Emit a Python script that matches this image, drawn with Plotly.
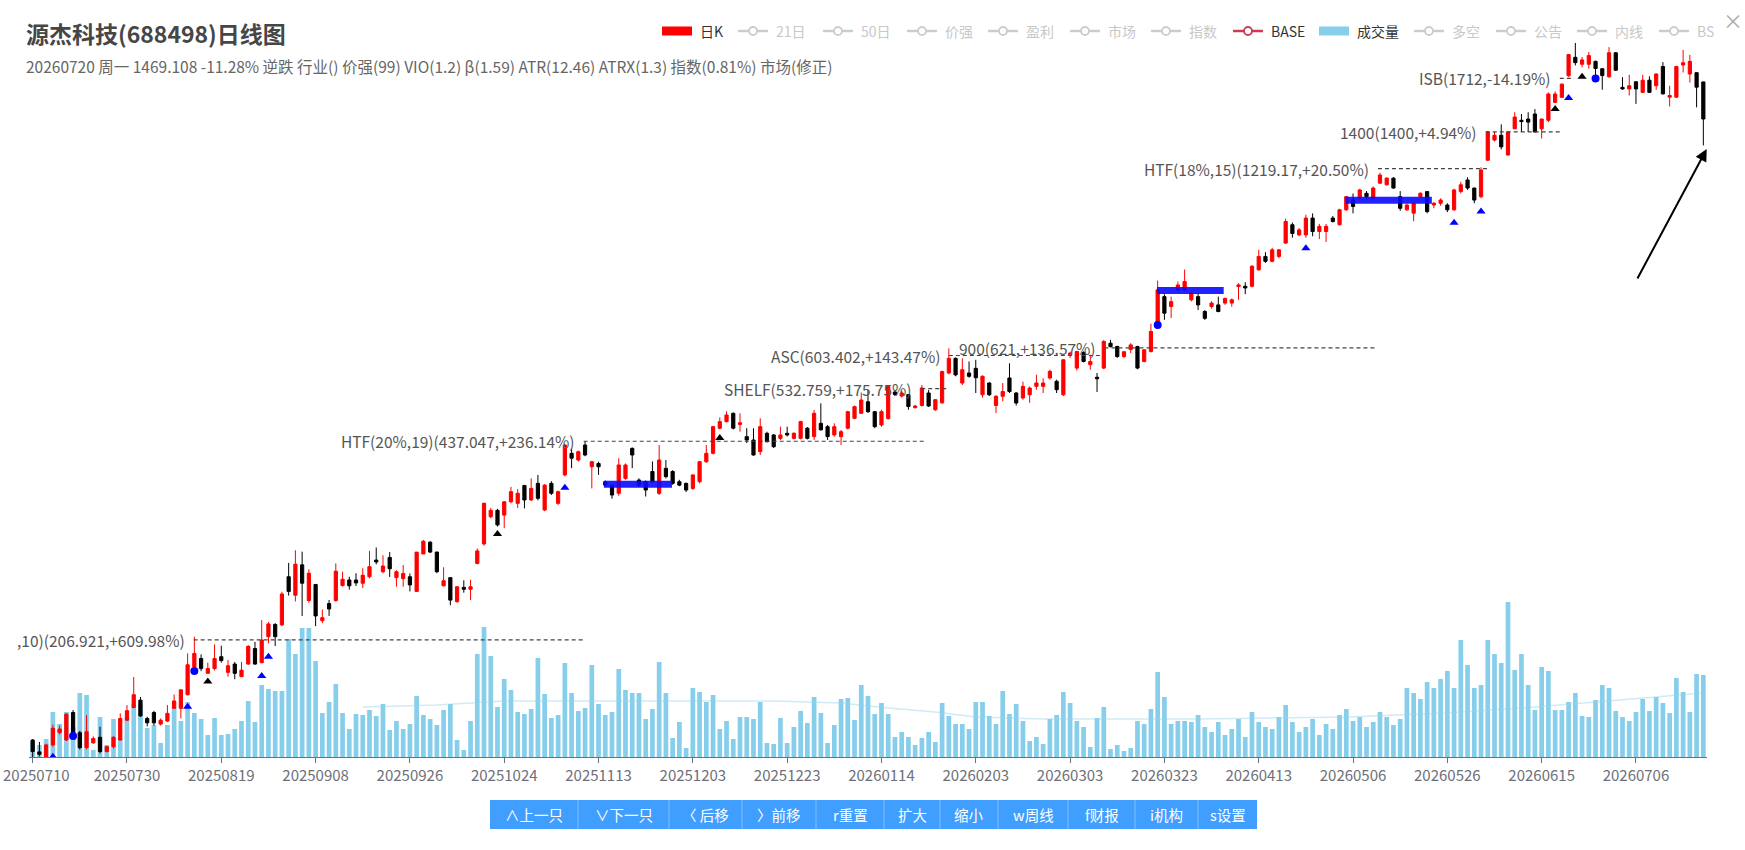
import math
import plotly.graph_objects as go

FONT = "Noto Sans CJK SC"
W, H = 1745, 850

# ---------------- data ----------------
tick_labels = ["20250710", "20250730", "20250819", "20250908", "20250926", "20251024",
               "20251113", "20251203", "20251223", "20260114", "20260203", "20260303",
               "20260323", "20260413", "20260506", "20260526", "20260615", "20260706"]
tick_step = 14  # trading days between labels

opens = [
    142, 135.8, 133, 139.4, 146, 142, 157.5, 146, 138, 140.5,
    143.5, 136, 138.5, 142, 153, 160.5, 165, 154, 157.5, 150.8,
    152.5, 160, 160, 168.4, 187, 193, 182.5, 185.8, 194.3, 183.2,
    189, 180.2, 189, 200.4, 190, 209.5, 219.3, 219, 262.5, 244.9,
    274.5, 240, 255, 222.5, 237.3, 240, 254, 259.3, 259.3, 256.2,
    262.5, 279.5, 267.5, 282.3, 261.6, 260.6, 262.5, 248.4, 286, 299,
    288, 253.7, 261.6, 239, 252.2, 250.4, 276, 297, 329, 337,
    331, 348, 346, 370, 350.4, 373, 337.5, 373, 346, 385,
    417.6, 407.2, 430.9, 397, 402, 375.3, 370.5, 359.3, 380, 425.5,
    377.7, 375.3, 390, 359.3, 394.7, 390, 375.3, 373, 366, 375.3,
    404.6, 417.6, 459, 470.5, 485.5, 465.6, 444.7, 439.1, 420.2, 450.3,
    447.5, 441.8, 450.3, 441.8, 441.8, 459, 444.7, 467.5, 461.7, 447.5,
    444.7, 459, 476.4, 485.5, 507, 488.5, 464.6, 476, 526, 518,
    521, 496, 500, 524, 492, 505, 565, 597, 544, 565,
    575, 520.6, 544, 500, 517.5, 554.5, 524, 514.3, 520.6, 537.3,
    537.3, 554.4, 547.6, 520.6, 605, 575.5, 610, 583, 556, 575.5,
    632, 624.3, 601, 617, 624, 590, 612.7, 681.5, 753, 725.5,
    772, 772, 744, 753, 712, 725.5, 730, 735, 735, 782,
    783, 783, 833, 876, 860, 876, 921, 987, 950, 950,
    1012, 962, 962, 1012, 987, 1044, 1083, 1090, 1111, 1090,
    1154, 1147, 1176, 1097, 1044, 1031, 1097, 1118, 1063, 1070,
    1063, 1044, 1118, 1168, 1133, 1097, 1258, 1357, 1382, 1283,
    1416, 1462, 1469, 1497, 1416, 1462, 1564, 1594, 1729, 1853,
    1805, 1805, 1825, 1775, 1722, 1885, 1655, 1645, 1690, 1624,
    1700, 1665, 1790, 1595, 1595, 1800, 1740, 1749, 1689]

highs = [
    142.5, 141, 140, 150.5, 150, 157, 159, 147, 156, 144,
    149.3, 139, 144, 157, 162, 180, 167, 155, 158.5, 154,
    162, 168.5, 171.5, 196.7, 209.5, 196, 190, 203.5, 202.5, 191.9,
    190.5, 190.5, 203, 205.5, 223, 221.5, 220.5, 248, 276.5, 290,
    288.5, 270, 255, 232, 240.5, 276, 267.5, 262.5, 266, 271,
    289.3, 293, 284.5, 288, 269, 274.3, 265.8, 288, 301.4, 300,
    288.5, 272, 261.6, 253, 259, 259.5, 292, 347, 340, 339,
    349, 368, 365, 371, 380, 385, 372, 376, 363, 432,
    425, 422, 437, 406, 404.6, 377, 371, 410, 402, 427,
    380, 377, 405, 430.9, 407.2, 392, 378, 374, 386, 406,
    430.9, 463, 478, 489, 487, 485.5, 459, 459, 476.4, 453,
    449, 461.7, 461.7, 452, 472, 461, 491.6, 504, 464.6, 467.5,
    456, 490, 500, 525, 530, 490, 492, 540, 530, 528,
    522, 501, 540, 530, 512, 570, 620, 599, 597, 590,
    593.8, 560, 546, 520, 544, 586, 526, 547, 537, 561.4,
    554, 572, 551, 595, 612, 614, 613, 605, 565, 640,
    640, 626, 614, 632, 626, 618, 680, 800, 760, 753,
    797, 834, 765, 763, 716, 740, 753, 750, 748, 792,
    795, 848, 898, 890, 905, 900, 1010, 995, 975, 1025,
    1030, 990, 990, 1020, 1048, 1100, 1110, 1130, 1120, 1140,
    1200, 1180, 1180, 1120, 1068, 1073, 1115, 1120, 1075, 1090,
    1070, 1130, 1160, 1180, 1135, 1225, 1405, 1399, 1440, 1403,
    1507, 1497, 1507, 1525, 1470, 1624, 1630, 1680, 1875, 1956,
    1855, 1890, 1830, 1780, 1925, 1890, 1720, 1735, 1692, 1735,
    1725, 1745, 1820, 1665, 1795, 1905, 1870, 1750, 1690]

lows = [
    133, 133.5, 132.5, 138.5, 145, 141.5, 143, 137, 137, 140,
    135, 135.5, 137.5, 142, 152.5, 160, 155, 149.5, 150, 150,
    152, 160, 154, 168, 186, 184, 182.5, 184.5, 190, 180.2,
    178.5, 180.2, 188.5, 188.5, 189.5, 204.3, 202.3, 218, 244.5, 239.2,
    226.5, 238, 218, 220.5, 226.5, 239, 253, 250, 253.5, 251.5,
    261, 275, 265.8, 262.3, 252.8, 252.8, 248.4, 248, 286, 287,
    266, 253, 235.8, 238, 247.2, 240.4, 275, 295, 327, 317,
    315, 346, 340, 339.5, 349, 350, 336, 357, 344, 383,
    395, 405, 413, 366, 385, 368, 352, 356, 378, 395,
    368, 355, 373, 357, 380, 371, 369, 361, 364, 373,
    403, 416, 457, 469, 457, 453, 434, 414, 415, 435,
    426, 439, 445, 440, 440, 440, 439.1, 455, 439.1, 444.7,
    431, 457, 475, 484, 486, 459, 461.7, 474, 518, 515,
    492, 494, 498, 497, 490, 503, 562, 558, 540, 555,
    524, 515, 518, 486, 508, 524, 500, 511, 505, 530.6,
    524, 551, 524, 518, 598, 570, 588, 572, 526, 573,
    622, 598, 598, 609, 573, 588, 610, 679, 690, 695,
    768, 770, 740, 716, 690, 720, 710, 730, 725, 744,
    760, 780, 830, 855, 857, 870, 918, 940, 945, 940,
    945, 935, 925, 995, 984, 1040, 1030, 1085, 1085, 1085,
    1150, 1144, 1130, 1040, 1040, 1000, 1090, 1030, 1050, 1060,
    1035, 1040, 1110, 1125, 1070, 1090, 1255, 1350, 1310, 1280,
    1414, 1399, 1399, 1399, 1365, 1452, 1560, 1590, 1720, 1797,
    1785, 1775, 1725, 1640, 1715, 1760, 1640, 1605, 1555, 1620,
    1620, 1640, 1610, 1540, 1590, 1750, 1685, 1535, 1330]

closes = [
    136, 134.6, 139.4, 148.5, 148, 156.5, 144.5, 138, 146.5, 142.8,
    136, 138.5, 143.5, 154, 158.6, 168.4, 155.5, 151.5, 151.5, 153,
    157, 164.5, 171.5, 188.5, 196.7, 185.8, 185.8, 193, 191.5, 187.8,
    182.5, 184.7, 202, 189, 206.9, 219.8, 209.5, 246, 248.4, 275.2,
    256.2, 266, 226.5, 225, 232.5, 268, 260, 253.7, 256.5, 264,
    272.6, 277.5, 273.3, 270.5, 267.5, 265.8, 254.5, 288, 300, 288,
    267.5, 258.6, 240.4, 252.8, 250.4, 252.8, 289.3, 346, 337, 319,
    348, 361.5, 359.3, 350.4, 366, 352.6, 370.5, 359.3, 361.5, 430.9,
    410, 420.2, 415, 404.6, 397, 370.5, 357, 399.7, 399.7, 415,
    370.5, 363.8, 375.3, 407.2, 382.5, 373, 370.5, 363.8, 385, 404.6,
    417.6, 461.7, 470.5, 482.5, 459, 468.5, 439.1, 415, 461.7, 436.3,
    428.2, 447.5, 447.5, 450.3, 470.5, 441.8, 485.5, 456.2, 444.7, 461.7,
    453, 488.5, 497.8, 510.4, 488.5, 461.7, 488.5, 537, 521, 524,
    498, 499, 534, 499, 511, 568, 597, 561, 572, 558,
    555, 558, 520.6, 517.5, 527, 527, 504.7, 537.3, 533.9, 544.1,
    544.1, 568.5, 530.6, 593.8, 609, 612.7, 590, 590, 553, 636,
    624, 601, 612, 628, 575.5, 616.5, 660.5, 772.5, 707.6, 739,
    787, 797, 763, 730, 694, 735, 712, 748, 744, 787,
    778, 844, 876, 860, 898, 898, 999, 955, 968, 1012,
    962, 981, 981, 999, 1044, 1097, 1057, 1125, 1097, 1133,
    1190, 1176, 1133, 1050, 1063, 1070, 1111, 1037, 1070, 1083,
    1044, 1125, 1147, 1133, 1083, 1213, 1399, 1382, 1323, 1399,
    1480, 1455, 1452, 1399, 1469, 1614, 1614, 1675, 1872, 1816,
    1835, 1865, 1777, 1730, 1885, 1765, 1645, 1665, 1645, 1700,
    1624, 1740, 1615, 1605, 1790, 1816, 1825, 1656, 1469.108]

# volume (arbitrary units)
volumes = [
    15, 12, 18, 45, 33, 45, 30, 64, 62, 7,
    40, 12, 38, 18, 40, 53, 52, 29, 32, 14,
    32, 50, 36, 55, 44, 38, 22, 39, 22, 23,
    28, 36, 56, 35, 72, 68, 66, 66, 118, 103,
    129, 129, 96, 44, 55, 73, 44, 28, 43, 42,
    47, 41, 53, 27, 36, 28, 33, 61, 42, 38,
    32, 47, 53, 17, 7, 36, 103, 130, 101, 50,
    78, 67, 45, 43, 48, 99, 63, 39, 42, 94,
    64, 46, 49, 92, 53, 42, 45, 88, 67, 64,
    64, 38, 48, 95, 64, 19, 35, 9, 69, 65,
    55, 62, 28, 36, 18, 40, 40, 38, 55, 14,
    13, 39, 14, 30, 46, 34, 60, 44, 14, 32,
    58, 59, 37, 72, 61, 43, 54, 43, 20, 25,
    20, 12, 19, 25, 15, 54, 41, 33, 33, 28,
    55, 55, 41, 33, 66, 43, 53, 36, 16, 20,
    13, 38, 42, 65, 54, 36, 30, 10, 39, 50,
    8, 12, 6, 9, 36, 33, 48, 85, 60, 33,
    36, 36, 35, 42, 30, 25, 35, 22, 28, 38,
    20, 45, 35, 30, 28, 40, 52, 35, 25, 30,
    38, 22, 33, 28, 42, 48, 36, 40, 30, 35,
    45, 40, 32, 38, 69, 64, 58, 75, 69, 78,
    86, 69, 117, 92, 69, 72, 117, 103, 94, 155,
    87, 103, 72, 47, 90, 86, 47, 47, 55, 64,
    41, 40, 57, 72, 69, 46, 40, 36, 45, 58,
    46, 60, 54, 44, 79, 65, 45, 83, 82]

# volume moving-average line (read at a few points)
ma_idx = [49, 60, 70, 90, 110, 120, 127, 134, 140, 150, 173, 195, 210, 223, 235, 248]
ma_vals = [50, 52, 56, 56, 56, 54, 49, 45, 40, 38, 38, 40, 44, 50, 57, 64]

# horizontal reference levels
level_texts = [",10)(206.921,+609.98%)", "HTF(20%,19)(437.047,+236.14%)",
               "SHELF(532.759,+175.75%)", "ASC(603.402,+143.47%)",
               "900(621,+136.57%)", "HTF(18%,15)(1219.17,+20.50%)",
               "1400(1400,+4.94%)", "ISB(1712,-14.19%)"]
level_prices = [206.921, 437.047, 532.759, 603.402, 621, 1219.17, 1400, 1712]
level_start = [23.9, 81.8, 131.9, 136.0, 159.1, 199.7, 215.7, 226.7]
level_end = [81.8, 132.4, 136.0, 158.6, 199.6, 216.0, 226.7, 228.8]

# blue base platforms
base_start = [84.8, 166.9, 194.9]
base_end = [94.9, 176.8, 207.7]
base_price = [371.6, 770.5, 1082]

# signal markers
blue_tri_idx = [3, 23, 34, 35, 79, 189, 211, 215, 228]
blue_tri_price = [133.3, 161, 180.7, 194.3, 367, 903, 994.6, 1037, 1590]
black_tri_idx = [26, 69, 102, 226, 230]
black_tri_price = [177, 308.3, 442.4, 1525, 1723]
blue_dot_idx = [6, 24, 167, 232]
blue_dot_price = [144.2, 184.1, 676.8, 1711]

# arrow (tail -> head)
arrow_tail = (238.1, 801.7)
arrow_head = (248.5, 1312)

title_text = "源杰科技(688498)日线图"
subtitle_text = ("20260720 周一 1469.108 -11.28% 逆跌 行业() 价强(99) VIO(1.2) β(1.59) "
                 "ATR(12.46) ATRX(1.3) 指数(0.81%) 市场(修正)")

legend_names = ["日K", "21日", "50日", "价强", "盈利", "市场", "指数", "BASE",
                "成交量", "多空", "公告", "内线", "BS"]
legend_active = [True, False, False, False, False, False, False, True,
                 True, False, False, False, False]
buttons = ["∧上一只", "∨下一只", "〈 后移", "〉前移", "r重置", "扩大", "缩小",
           "w周线", "f财报", "i机构", "s设置"]

n = len(closes)
assert len(opens) == n and len(highs) == n and len(lows) == n and len(volumes) == n, \
    (len(opens), len(highs), len(lows), len(closes), len(volumes))

# ---------------- helpers (layout only) ----------------
def fx(p):
    return p / W

def fy(p):
    return 1 - p / H

idx = list(range(n))
fig = go.Figure()

fig.add_trace(go.Bar(x=idx, y=volumes, width=0.7, yaxis="y",
                     marker=dict(color="#87CEEB", line=dict(width=0)),
                     hoverinfo="skip"))
fig.add_trace(go.Scatter(x=ma_idx, y=ma_vals, yaxis="y", mode="lines",
                         line=dict(color="rgba(150,210,235,0.45)", width=1.5),
                         hoverinfo="skip"))

for t, p, s, e in zip(level_texts, level_prices, level_start, level_end):
    fig.add_trace(go.Scatter(x=[s, e], y=[p, p], yaxis="y2", mode="lines",
                             line=dict(color="#444", width=1.2, dash="4px,3px"),
                             hoverinfo="skip"))

fig.add_trace(go.Candlestick(
    x=idx, open=opens, high=highs, low=lows, close=closes, yaxis="y2",
    increasing=dict(line=dict(color="#ff0000", width=1), fillcolor="#ff0000"),
    decreasing=dict(line=dict(color="#000000", width=1), fillcolor="#000000"),
    whiskerwidth=0, hoverinfo="skip"))

for s, e, p in zip(base_start, base_end, base_price):
    fig.add_trace(go.Scatter(x=[s, e], y=[p, p], yaxis="y2", mode="lines",
                             line=dict(color="rgba(10,10,255,0.9)", width=7),
                             hoverinfo="skip"))

fig.add_trace(go.Scatter(x=blue_tri_idx, y=blue_tri_price, yaxis="y2", mode="markers",
                         marker=dict(symbol="triangle-up", size=8, color="#0000ff"),
                         hoverinfo="skip"))
fig.add_trace(go.Scatter(x=black_tri_idx, y=black_tri_price, yaxis="y2", mode="markers",
                         marker=dict(symbol="triangle-up", size=8, color="#000000"),
                         hoverinfo="skip"))
fig.add_trace(go.Scatter(x=blue_dot_idx, y=blue_dot_price, yaxis="y2", mode="markers",
                         marker=dict(symbol="circle", size=8, color="#0000ff"),
                         hoverinfo="skip"))

annotations = []
shapes = []

# level labels
for t, p, s in zip(level_texts, level_prices, level_start):
    annotations.append(dict(x=s - 1.0, y=math.log10(p), xref="x", yref="y2",
                            text=t, showarrow=False, xanchor="right", yanchor="middle",
                            font=dict(family=FONT, size=15.5, color="#555")))

# arrow
annotations.append(dict(x=arrow_head[0], y=math.log10(arrow_head[1]),
                        ax=arrow_tail[0], ay=math.log10(arrow_tail[1]),
                        xref="x", yref="y2", axref="x", ayref="y2", text="",
                        showarrow=True, arrowhead=2, arrowsize=1.2, arrowwidth=2,
                        arrowcolor="#000"))

# title and subtitle
annotations.append(dict(x=fx(24), y=fy(33), xref="paper", yref="paper",
                        text="<b>" + title_text + "</b>", showarrow=False,
                        xanchor="left", yanchor="middle",
                        font=dict(family=FONT, size=23, color="#464646")))
annotations.append(dict(x=fx(24), y=fy(66), xref="paper", yref="paper",
                        text=subtitle_text, showarrow=False,
                        xanchor="left", yanchor="middle",
                        font=dict(family=FONT, size=15.5, color="#666")))

# first date label sits at the very left edge: draw it inside the page
annotations.append(dict(x=fx(1), y=fy(774), xref="paper", yref="paper",
                        text=tick_labels[0], showarrow=False,
                        xanchor="left", yanchor="middle",
                        font=dict(family=FONT, size=15, color="#6e7079")))
shown_ticks = [""] + tick_labels[1:]

# custom legend
leg_x = [662, 738, 823, 907, 988, 1070, 1151, 1233, 1319, 1414, 1496, 1577, 1659]
leg_y = 31
for name, active, x0 in zip(legend_names, legend_active, leg_x):
    if name == "日K":
        shapes.append(dict(type="rect", xref="paper", yref="paper",
                           x0=fx(x0), x1=fx(x0 + 30), y0=fy(leg_y + 4.5), y1=fy(leg_y - 4.5),
                           fillcolor="#ff0000", line=dict(width=0)))
    elif name == "成交量":
        shapes.append(dict(type="rect", xref="paper", yref="paper",
                           x0=fx(x0), x1=fx(x0 + 30), y0=fy(leg_y + 4.5), y1=fy(leg_y - 4.5),
                           fillcolor="#87CEEB", line=dict(width=0)))
    else:
        col = "#cc3d55" if active else "#cccccc"
        shapes.append(dict(type="line", xref="paper", yref="paper",
                           x0=fx(x0), x1=fx(x0 + 30), y0=fy(leg_y), y1=fy(leg_y),
                           line=dict(color=col, width=2.5)))
        shapes.append(dict(type="circle", xref="paper", yref="paper",
                           x0=fx(x0 + 11), x1=fx(x0 + 19), y0=fy(leg_y + 4), y1=fy(leg_y - 4),
                           fillcolor="#ffffff", line=dict(color=col, width=1.8)))
    annotations.append(dict(x=fx(x0 + 36), y=fy(leg_y), xref="paper", yref="paper",
                            text=name, showarrow=False, xanchor="left", yanchor="middle",
                            font=dict(family=FONT, size=14,
                                      color="#333" if active else "#c8c8c8")))

annotations.append(dict(x=fx(1733), y=fy(20), xref="paper", yref="paper", text="×",
                        showarrow=False, xanchor="center", yanchor="middle",
                        font=dict(family=FONT, size=20, color="#aaa")))

# buttons
btn_edges = [490, 578, 669, 742, 816, 884, 940, 998, 1068, 1135, 1198, 1257]
shapes.append(dict(type="rect", xref="paper", yref="paper",
                   x0=fx(btn_edges[0]), x1=fx(btn_edges[-1]), y0=fy(829), y1=fy(800),
                   fillcolor="#409eff", line=dict(width=0)))
for e in btn_edges[1:-1]:
    shapes.append(dict(type="line", xref="paper", yref="paper",
                       x0=fx(e), x1=fx(e), y0=fy(829), y1=fy(800),
                       line=dict(color="rgba(255,255,255,0.35)", width=1)))
for b, a, c in zip(buttons, btn_edges[:-1], btn_edges[1:]):
    annotations.append(dict(x=fx((a + c) / 2), y=fy(814.5), xref="paper", yref="paper",
                            text=b, showarrow=False, xanchor="center", yanchor="middle",
                            font=dict(family=FONT, size=14.5, color="#ffffff")))

fig.update_layout(
    width=W, height=H,
    margin=dict(l=0, r=0, t=0, b=0),
    paper_bgcolor="#ffffff", plot_bgcolor="#ffffff",
    showlegend=False,
    boxgap=0.32,
    xaxis=dict(domain=[fx(29.3), fx(1706.7)], range=[-0.5, n - 0.5],
               tickmode="array", tickvals=[i * tick_step for i in range(len(tick_labels))],
               ticktext=shown_ticks, showline=True, linecolor="#6e7079", linewidth=1,
               ticks="outside", ticklen=5, tickcolor="#6e7079",
               tickfont=dict(family=FONT, size=15, color="#6e7079"),
               showgrid=False, zeroline=False, anchor="y",
               rangeslider=dict(visible=False), fixedrange=True),
    yaxis=dict(domain=[fy(757), fy(35)], range=[0, 722], visible=False,
               fixedrange=True),
    yaxis2=dict(overlaying="y", type="log", range=[2.12458, 3.30432], visible=False,
                fixedrange=True),
    annotations=annotations,
    shapes=shapes,
)

fig.write_html("out.html",
               config={"displayModeBar": False},
               post_script="document.body.style.margin='0';document.body.style.padding='0';")
